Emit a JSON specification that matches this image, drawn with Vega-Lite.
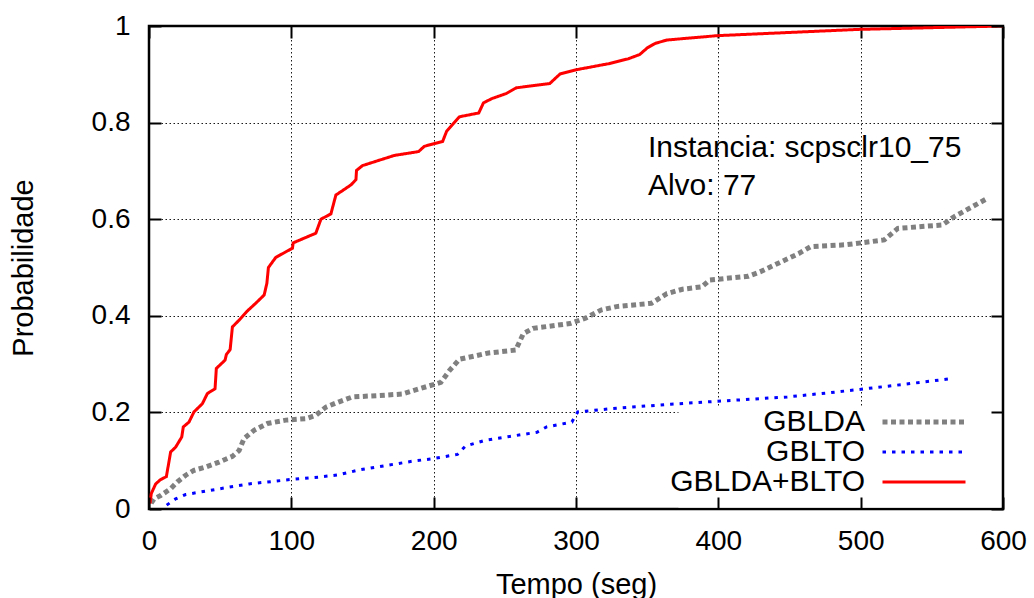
{
  "$schema": "https://vega.github.io/schema/vega-lite/v6.json",
  "width": 854,
  "height": 483,
  "autosize": "none",
  "padding": {"left": 149, "top": 26, "right": 31, "bottom": 89},
  "background": "white",
  "config": {
    "font": "Liberation Sans",
    "view": {"stroke": "black", "strokeWidth": 2.5},
    "axis": {"labelFont": "Liberation Sans", "titleFont": "Liberation Sans", "labelColor": "black", "titleColor": "black", "titleFontWeight": "normal", "labelFontSize": 28, "titleFontSize": 29, "domain": false, "tickColor": "black", "tickWidth": 2, "tickSize": -12, "gridColor": "black", "gridDash": [1.5, 2.5], "gridWidth": 1, "gridOpacity": 0.9},
    "legend": {"labelFont": "Liberation Sans", "labelColor": "black"}
  },
  "layer": [
    {
      "data": {"values": [
        {"s": "GBLDA", "t": 1.5, "p": 0.012}, {"s": "GBLDA", "t": 3.5, "p": 0.021}, {"s": "GBLDA", "t": 8.2, "p": 0.028}, {"s": "GBLDA", "t": 15.2, "p": 0.042}, {"s": "GBLDA", "t": 19.9, "p": 0.056}, {"s": "GBLDA", "t": 25.8, "p": 0.070}, {"s": "GBLDA", "t": 31.6, "p": 0.080}, {"s": "GBLDA", "t": 39.9, "p": 0.087}, {"s": "GBLDA", "t": 49.2, "p": 0.097}, {"s": "GBLDA", "t": 58.6, "p": 0.109}, {"s": "GBLDA", "t": 63.3, "p": 0.121}, {"s": "GBLDA", "t": 66.8, "p": 0.146}, {"s": "GBLDA", "t": 73.8, "p": 0.163}, {"s": "GBLDA", "t": 83.2, "p": 0.177}, {"s": "GBLDA", "t": 96.1, "p": 0.184}, {"s": "GBLDA", "t": 110.2, "p": 0.187}, {"s": "GBLDA", "t": 117.2, "p": 0.194}, {"s": "GBLDA", "t": 124.3, "p": 0.211}, {"s": "GBLDA", "t": 133.6, "p": 0.222}, {"s": "GBLDA", "t": 143.0, "p": 0.232}, {"s": "GBLDA", "t": 161.7, "p": 0.235}, {"s": "GBLDA", "t": 178.0, "p": 0.238}, {"s": "GBLDA", "t": 190.0, "p": 0.249}, {"s": "GBLDA", "t": 205.0, "p": 0.262}, {"s": "GBLDA", "t": 211.2, "p": 0.287}, {"s": "GBLDA", "t": 218.1, "p": 0.310}, {"s": "GBLDA", "t": 238.5, "p": 0.323}, {"s": "GBLDA", "t": 257.6, "p": 0.329}, {"s": "GBLDA", "t": 263.0, "p": 0.363}, {"s": "GBLDA", "t": 269.8, "p": 0.374}, {"s": "GBLDA", "t": 295.7, "p": 0.384}, {"s": "GBLDA", "t": 306.6, "p": 0.395}, {"s": "GBLDA", "t": 317.6, "p": 0.412}, {"s": "GBLDA", "t": 328.4, "p": 0.419}, {"s": "GBLDA", "t": 353.0, "p": 0.426}, {"s": "GBLDA", "t": 363.9, "p": 0.446}, {"s": "GBLDA", "t": 374.8, "p": 0.455}, {"s": "GBLDA", "t": 388.4, "p": 0.460}, {"s": "GBLDA", "t": 393.9, "p": 0.474}, {"s": "GBLDA", "t": 421.1, "p": 0.482}, {"s": "GBLDA", "t": 429.3, "p": 0.491}, {"s": "GBLDA", "t": 442.9, "p": 0.510}, {"s": "GBLDA", "t": 456.5, "p": 0.529}, {"s": "GBLDA", "t": 464.8, "p": 0.543}, {"s": "GBLDA", "t": 489.2, "p": 0.547}, {"s": "GBLDA", "t": 516.5, "p": 0.557}, {"s": "GBLDA", "t": 526.1, "p": 0.581}, {"s": "GBLDA", "t": 557.4, "p": 0.588}, {"s": "GBLDA", "t": 565.6, "p": 0.605}, {"s": "GBLDA", "t": 589.0, "p": 0.643},
        {"s": "GBLTO", "t": 12.4, "p": 0.008}, {"s": "GBLTO", "t": 18.7, "p": 0.021}, {"s": "GBLTO", "t": 25.8, "p": 0.030}, {"s": "GBLTO", "t": 39.9, "p": 0.037}, {"s": "GBLTO", "t": 53.9, "p": 0.044}, {"s": "GBLTO", "t": 70.3, "p": 0.052}, {"s": "GBLTO", "t": 86.7, "p": 0.057}, {"s": "GBLTO", "t": 99.2, "p": 0.061}, {"s": "GBLTO", "t": 119.5, "p": 0.066}, {"s": "GBLTO", "t": 133.6, "p": 0.071}, {"s": "GBLTO", "t": 147.7, "p": 0.081}, {"s": "GBLTO", "t": 166.4, "p": 0.090}, {"s": "GBLTO", "t": 185.2, "p": 0.099}, {"s": "GBLTO", "t": 198.9, "p": 0.104}, {"s": "GBLTO", "t": 216.7, "p": 0.113}, {"s": "GBLTO", "t": 222.2, "p": 0.130}, {"s": "GBLTO", "t": 235.8, "p": 0.142}, {"s": "GBLTO", "t": 257.6, "p": 0.152}, {"s": "GBLTO", "t": 272.6, "p": 0.159}, {"s": "GBLTO", "t": 279.4, "p": 0.170}, {"s": "GBLTO", "t": 297.1, "p": 0.180}, {"s": "GBLTO", "t": 301.2, "p": 0.201}, {"s": "GBLTO", "t": 325.7, "p": 0.208}, {"s": "GBLTO", "t": 366.6, "p": 0.217}, {"s": "GBLTO", "t": 399.3, "p": 0.223}, {"s": "GBLTO", "t": 448.4, "p": 0.232}, {"s": "GBLTO", "t": 475.7, "p": 0.240}, {"s": "GBLTO", "t": 497.5, "p": 0.247}, {"s": "GBLTO", "t": 530.2, "p": 0.258}, {"s": "GBLTO", "t": 564.0, "p": 0.270},
        {"s": "GBLDA+BLTO", "t": 0.7, "p": 0.011}, {"s": "GBLDA+BLTO", "t": 1.6, "p": 0.032}, {"s": "GBLDA+BLTO", "t": 4.7, "p": 0.052}, {"s": "GBLDA+BLTO", "t": 8.2, "p": 0.061}, {"s": "GBLDA+BLTO", "t": 12.2, "p": 0.067}, {"s": "GBLDA+BLTO", "t": 15.2, "p": 0.118}, {"s": "GBLDA+BLTO", "t": 18.7, "p": 0.128}, {"s": "GBLDA+BLTO", "t": 23.0, "p": 0.149}, {"s": "GBLDA+BLTO", "t": 24.1, "p": 0.170}, {"s": "GBLDA+BLTO", "t": 28.1, "p": 0.180}, {"s": "GBLDA+BLTO", "t": 31.6, "p": 0.201}, {"s": "GBLDA+BLTO", "t": 37.5, "p": 0.218}, {"s": "GBLDA+BLTO", "t": 41.0, "p": 0.239}, {"s": "GBLDA+BLTO", "t": 46.4, "p": 0.249}, {"s": "GBLDA+BLTO", "t": 47.3, "p": 0.291}, {"s": "GBLDA+BLTO", "t": 53.4, "p": 0.308}, {"s": "GBLDA+BLTO", "t": 54.4, "p": 0.320}, {"s": "GBLDA+BLTO", "t": 57.0, "p": 0.330}, {"s": "GBLDA+BLTO", "t": 58.6, "p": 0.377}, {"s": "GBLDA+BLTO", "t": 63.3, "p": 0.391}, {"s": "GBLDA+BLTO", "t": 69.1, "p": 0.410}, {"s": "GBLDA+BLTO", "t": 75.0, "p": 0.426}, {"s": "GBLDA+BLTO", "t": 80.9, "p": 0.443}, {"s": "GBLDA+BLTO", "t": 82.8, "p": 0.467}, {"s": "GBLDA+BLTO", "t": 83.9, "p": 0.500}, {"s": "GBLDA+BLTO", "t": 89.1, "p": 0.521}, {"s": "GBLDA+BLTO", "t": 100.8, "p": 0.540}, {"s": "GBLDA+BLTO", "t": 101.3, "p": 0.551}, {"s": "GBLDA+BLTO", "t": 117.2, "p": 0.571}, {"s": "GBLDA+BLTO", "t": 120.8, "p": 0.600}, {"s": "GBLDA+BLTO", "t": 127.8, "p": 0.611}, {"s": "GBLDA+BLTO", "t": 131.3, "p": 0.650}, {"s": "GBLDA+BLTO", "t": 141.9, "p": 0.671}, {"s": "GBLDA+BLTO", "t": 145.4, "p": 0.682}, {"s": "GBLDA+BLTO", "t": 145.8, "p": 0.701}, {"s": "GBLDA+BLTO", "t": 150.0, "p": 0.711}, {"s": "GBLDA+BLTO", "t": 161.7, "p": 0.722}, {"s": "GBLDA+BLTO", "t": 172.3, "p": 0.732}, {"s": "GBLDA+BLTO", "t": 189.4, "p": 0.740}, {"s": "GBLDA+BLTO", "t": 193.5, "p": 0.751}, {"s": "GBLDA+BLTO", "t": 206.3, "p": 0.761}, {"s": "GBLDA+BLTO", "t": 209.1, "p": 0.782}, {"s": "GBLDA+BLTO", "t": 218.1, "p": 0.812}, {"s": "GBLDA+BLTO", "t": 231.7, "p": 0.820}, {"s": "GBLDA+BLTO", "t": 235.0, "p": 0.841}, {"s": "GBLDA+BLTO", "t": 241.2, "p": 0.850}, {"s": "GBLDA+BLTO", "t": 250.8, "p": 0.860}, {"s": "GBLDA+BLTO", "t": 258.1, "p": 0.872}, {"s": "GBLDA+BLTO", "t": 281.6, "p": 0.881}, {"s": "GBLDA+BLTO", "t": 288.9, "p": 0.901}, {"s": "GBLDA+BLTO", "t": 301.2, "p": 0.910}, {"s": "GBLDA+BLTO", "t": 323.0, "p": 0.922}, {"s": "GBLDA+BLTO", "t": 336.6, "p": 0.932}, {"s": "GBLDA+BLTO", "t": 344.8, "p": 0.941}, {"s": "GBLDA+BLTO", "t": 350.2, "p": 0.955}, {"s": "GBLDA+BLTO", "t": 355.7, "p": 0.964}, {"s": "GBLDA+BLTO", "t": 363.9, "p": 0.971}, {"s": "GBLDA+BLTO", "t": 399.3, "p": 0.980}, {"s": "GBLDA+BLTO", "t": 498.8, "p": 0.993}, {"s": "GBLDA+BLTO", "t": 600.0, "p": 1.0}
      ]},
      "mark": {"type": "line", "clip": true},
      "encoding": {
        "x": {"field": "t", "type": "quantitative", "scale": {"domain": [0, 600], "nice": false, "zero": false},
          "axis": {"orient": "bottom", "values": [0, 100, 200, 300, 400, 500, 600], "grid": false, "labelPadding": 30, "title": "Tempo (seg)", "titlePadding": 15, "zindex": 1, "labelFlush": false}},
        "y": {"field": "p", "type": "quantitative", "scale": {"domain": [0, 1], "nice": false},
          "axis": {"orient": "left", "values": [0, 0.2, 0.4, 0.6, 0.8, 1], "format": "~g", "grid": true, "labelPadding": 31, "title": "Probabilidade", "titlePadding": 53, "zindex": 0, "labelFlush": false}},
        "color": {"field": "s", "type": "nominal", "sort": ["GBLDA", "GBLTO", "GBLDA+BLTO"],
          "scale": {"domain": ["GBLDA", "GBLTO", "GBLDA+BLTO"], "range": ["#808080", "#0000ff", "#ff0000"]},
          "legend": {"orient": "none", "legendX": 760, "legendY": 381, "title": null, "symbolType": "stroke", "symbolSize": 6889, "symbolStrokeWidth": 3.5, "rowPadding": -28.5, "labelFontSize": 30, "labelAlign": "right", "labelOffset": -74, "labelBaseline": "middle", "labelLimit": 400, "padding": 0,
            "encode": {"symbols": {"update": {"strokeWidth": {"signal": "datum.value === 'GBLDA' ? 5 : 3"}}}}}},
        "strokeDash": {"field": "s", "type": "nominal", "sort": ["GBLDA", "GBLTO", "GBLDA+BLTO"],
          "scale": {"domain": ["GBLDA", "GBLTO", "GBLDA+BLTO"], "range": [[5, 3.5], [3.5, 6], [1, 0]]},
          "legend": {"orient": "none", "legendX": 760, "legendY": 381, "title": null, "symbolType": "stroke", "symbolSize": 6889, "symbolStrokeWidth": 3.5, "rowPadding": -28.5, "labelFontSize": 30, "labelAlign": "right", "labelOffset": -74, "labelBaseline": "middle", "labelLimit": 400, "padding": 0,
            "encode": {"symbols": {"update": {"strokeWidth": {"signal": "datum.value === 'GBLDA' ? 5 : 3"}}}}}},
        "strokeWidth": {"condition": {"test": "datum.s === 'GBLDA'", "value": 5}, "value": 3}
      }
    },
    {
      "data": {"values": [{"note": "blank"}]},
      "mark": {"type": "rect", "fill": "white"},
      "encoding": {
        "x": {"datum": 372, "type": "quantitative", "scale": {"domain": [0, 600], "nice": false, "zero": false},
          "axis": {"orient": "top", "values": [0, 100, 200, 300, 400, 500, 600], "grid": true, "labels": false, "title": null, "zindex": 0}},
        "x2": {"datum": 598.5},
        "y": {"datum": 0.003, "type": "quantitative", "scale": {"domain": [0, 1], "nice": false},
          "axis": {"orient": "right", "values": [0, 0.2, 0.4, 0.6, 0.8, 1], "grid": false, "labels": false, "title": null, "zindex": 1}},
        "y2": {"datum": 0.212}
      }
    },
    {
      "data": {"values": [{"note": "label"}]},
      "mark": {"type": "text", "align": "left", "baseline": "alphabetic", "fontSize": 30, "lineHeight": 38, "color": "black", "font": "Liberation Sans"},
      "encoding": {
        "x": {"datum": 350.5, "type": "quantitative", "axis": null},
        "y": {"datum": 0.729, "type": "quantitative", "axis": null},
        "text": {"value": ["Instancia: scpsclr10_75", "Alvo: 77"]}
      }
    }
  ],
  "resolve": {"axis": {"x": "independent", "y": "independent"}}
}
